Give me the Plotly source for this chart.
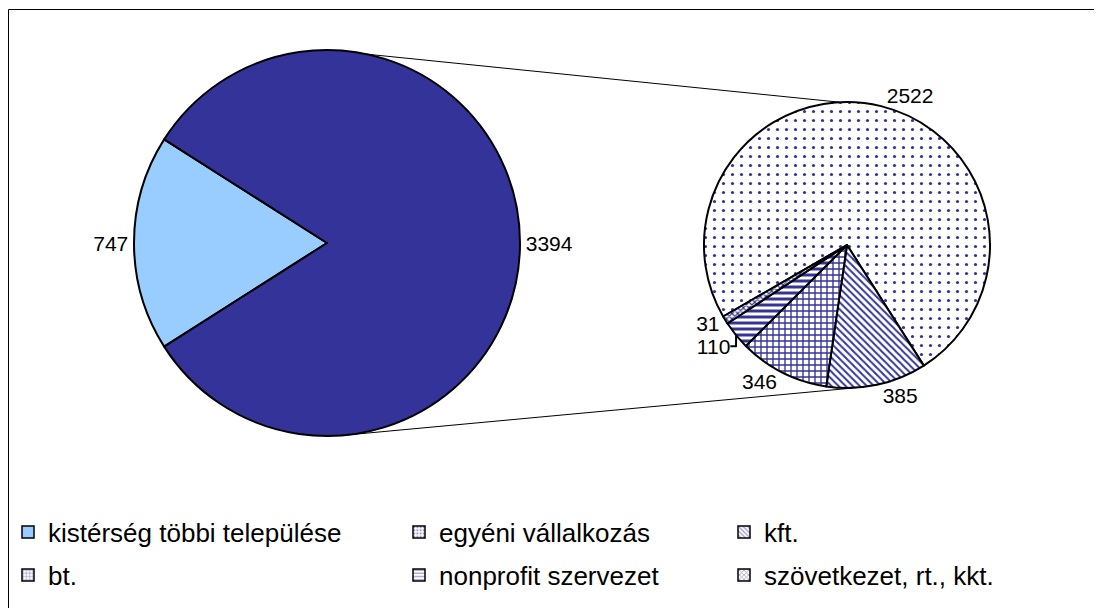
import plotly.graph_objects as go
import math

# ---- data ----
main_labels = ["kistérség többi települése", "other (3394)"]
main_values = [747, 3394]
main_colors = ["#99CCFF", "#333399"]

sub_labels = ["egyéni vállalkozás", "kft.", "bt.", "nonprofit szervezet", "szövetkezet, rt., kkt."]
sub_values = [2522, 385, 346, 110, 31]
sub_patterns = [".", "\\", "+", "-", "x"]
sub_pattern_sizes = [9, 5, 6, 6, 4]
sub_solidity = [0.1, 0.4, 0.4, 0.5, 0.5]

legend_labels = ["kistérség többi települése"] + sub_labels

# ---- geometry (layout), page pixel coords minus page body offset ----
W, H = 1102, 608
OFF = 8  # default page body margin
C1 = (327 - OFF, 243 - OFF); R1 = 193
C2 = (847 - OFF, 245 - OFF); R2 = 143
NAVY = "#333399"
FONT = "Liberation Sans, Arial, sans-serif"

def dom(c, r):
    return dict(x=[(c[0] - r) / W, (c[0] + r) / W],
                y=[1 - (c[1] + r) / H, 1 - (c[1] - r) / H])

total_main = sum(main_values)
rot_main = 270 - main_values[0] / total_main * 360 / 2

fig = go.Figure()
fig.add_trace(go.Pie(
    labels=main_labels, values=main_values, sort=False, direction="clockwise",
    rotation=rot_main, domain=dom(C1, R1), showlegend=False,
    marker=dict(colors=main_colors, line=dict(color="black", width=2)),
    textinfo="value", textposition="outside",
    textfont=dict(family=FONT, size=21, color="black"), hoverinfo="label+value",
))

rot_sub = 240
fig.add_trace(go.Pie(
    labels=sub_labels, values=sub_values, sort=False, direction="clockwise",
    rotation=rot_sub, domain=dom(C2, R2), showlegend=False,
    marker=dict(colors=["white"] * 5, line=dict(color="black", width=2),
                pattern=dict(shape=sub_patterns, fgcolor=NAVY, bgcolor="white",
                             size=sub_pattern_sizes, solidity=sub_solidity)),
    textinfo="value", textposition="outside",
    textfont=dict(family=FONT, size=21, color="black"), hoverinfo="label+value",
))

# legend-only bar traces
leg_colors = ["#99CCFF"] + ["white"] * 5
leg_shapes = [""] + sub_patterns
col_x = [37 - OFF, 433 - OFF, 758 - OFF]
row_y = [532 - OFF, 575 - OFF]
layout_legends = {}
for i, name in enumerate(legend_labels):
    key = "legend" if i == 0 else f"legend{i + 1}"
    fig.add_trace(go.Bar(
        x=[None], y=[None], name=name, legend=key, showlegend=True,
        marker=dict(color=leg_colors[i], line=dict(color="black", width=1.5),
                    pattern=dict(shape=leg_shapes[i], fgcolor=NAVY, bgcolor=leg_colors[i],
                                 size=4, solidity=0.4)),
    ))
    cx = col_x[i % 3]
    ry = row_y[i // 3]
    layout_legends[key] = dict(
        xref="container", yref="container",
        x=max(0.0, (cx - 34) / W), xanchor="left", y=1 - ry / H, yanchor="middle",
        font=dict(family=FONT, size=26, color="black"), bgcolor="rgba(0,0,0,0)",
        borderwidth=0, itemclick=False, itemdoubleclick=False,
    )

# connector lines between pies
def pt(c, r, ang):
    a = math.radians(ang)
    return (c[0] + r * math.sin(a), c[1] - r * math.cos(a))

shapes = []
for a1, a2 in [(12, -3), (174, 176)]:
    p1 = pt(C1, R1, a1); p2 = pt(C2, R2, a2)
    shapes.append(dict(type="line", xref="paper", yref="paper",
                       x0=p1[0] / W, y0=1 - p1[1] / H, x1=p2[0] / W, y1=1 - p2[1] / H,
                       line=dict(color="black", width=1)))
# outer frame around the whole chart
shapes.append(dict(type="rect", xref="paper", yref="paper",
                   x0=0.5 / W, y0=0.5 / H, x1=1 - 0.5 / W, y1=1 - 1.5 / H,
                   line=dict(color="black", width=1)))

fig.update_layout(
    width=W, height=H, margin=dict(l=0, r=0, t=0, b=0, autoexpand=False),
    paper_bgcolor="white", plot_bgcolor="white",
    xaxis=dict(visible=False), yaxis=dict(visible=False),
    shapes=shapes, **layout_legends,
)
fig.write_html("out.html")
